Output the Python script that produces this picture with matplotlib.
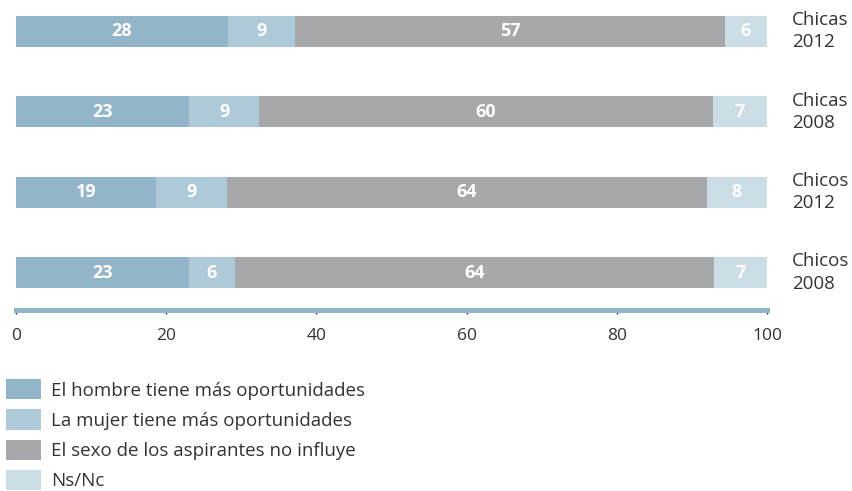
import matplotlib.pyplot as plt
import numpy as np

plt.rcParams['font.family'] = ['Open Sans', 'DejaVu Sans']

groups = ["Chicas\n2012", "Chicas\n2008", "Chicos\n2012", "Chicos\n2008"]
hombre = [28.2, 23.0, 18.7, 23.0]
mujer = [9.0, 9.4, 9.4, 6.2]
no_influye = [57.2, 60.4, 63.9, 63.7]
nsnc = [5.6, 7.2, 8.0, 7.1]

series = [hombre, mujer, no_influye, nsnc]
names = ["El hombre tiene más oportunidades",
         "La mujer tiene más oportunidades",
         "El sexo de los aspirantes no influye",
         "Ns/Nc"]
colors = ["#93b5c8", "#aecad8", "#a7a8ac", "#ccdde5"]

fig = plt.figure(figsize=(8.52, 4.91), dpi=100)
ax = fig.add_axes([16/852, 1 - 309.5/491, 751/852, 309.5/491])

y = np.arange(len(groups))[::-1]
left = np.zeros(len(groups))
handles = []
for vals, name, c in zip(series, names, colors):
    vals = np.array(vals, dtype=float)
    bars = ax.barh(y, vals, left=left, height=0.386, color=c, label=name)
    handles.append(bars)
    for yi, l, v in zip(y, left, vals):
        ax.text(l + v / 2, yi, f"{v:.0f}", ha="center", va="center",
                color="white", fontsize=13, fontweight="bold")
    left += vals

# group names to the right of each bar
for yi, g in zip(y, groups):
    ax.text(103.3, yi, g, ha="left", va="center", fontsize=13.5,
            color="#333333", linespacing=1.3)

ax.set_xlim(0, 100)
ax.set_ylim(-0.46, 3.39)
ax.set_yticks([])
ax.set_xticks(np.arange(0, 101, 20))
ax.tick_params(axis="x", length=3, width=1, color="#333333", pad=10,
               labelsize=12.5, labelcolor="#333333")
for s in ["top", "right", "left"]:
    ax.spines[s].set_visible(False)
ax.spines["bottom"].set_color("#93b5c8")
ax.spines["bottom"].set_linewidth(3.6)

fig.legend(handles=handles, loc="upper left", bbox_to_anchor=(6/852, 1 - 379/491),
           frameon=False, fontsize=13.5, handlelength=1.87, handleheight=1.3,
           labelspacing=0.52, handletextpad=0.53, borderpad=0, borderaxespad=0,
           labelcolor="#333333")

fig.savefig("out.png", dpi=100)
